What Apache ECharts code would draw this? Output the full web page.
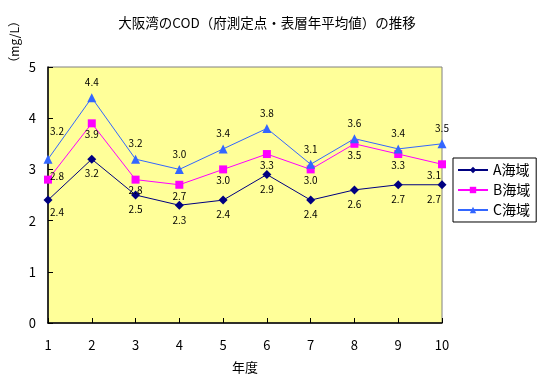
<!DOCTYPE html>
<html><head><meta charset="utf-8">
<script src="https://cdn.jsdelivr.net/npm/echarts@6/dist/echarts.min.js"></script>
<style>html,body{margin:0;padding:0;background:#fff}#c{width:545px;height:380px}</style>
</head><body><div id="c"></div>
<script>
const years = ['1','2','3','4','5','6','7','8','9','10'];
const seriesA = [2.4, 3.2, 2.5, 2.3, 2.4, 2.9, 2.4, 2.6, 2.7, 2.7];
const seriesB = [2.8, 3.9, 2.8, 2.7, 3.0, 3.3, 3.0, 3.5, 3.3, 3.1];
const seriesC = [3.2, 4.4, 3.2, 3.0, 3.4, 3.8, 3.1, 3.6, 3.4, 3.5];
const names = ['A海域', 'B海域', 'C海域'];
const yTicks = [0, 1, 2, 3, 4, 5];

const FONT = '"Noto Sans CJK JP", "DejaVu Sans", sans-serif';
const chart = echarts.init(document.getElementById('c'));

function mk(name, data, color, symbol, size, pos, dist, firstOffset, lastOffset) {
  const n = data.length;
  return {
    name, type: 'line',
    data: data.map((v, i) => i === 0 ? {value: v, label: {offset: firstOffset}}
                           : (i === n - 1 ? {value: v, label: {offset: lastOffset}} : v)),
    color, symbol, symbolSize: size,
    lineStyle: {width: 1, color},
    itemStyle: {color},
    label: {show: true, position: pos, distance: dist, color: '#000', fontSize: 10, fontFamily: FONT,
            formatter: p => p.value.toFixed(1)},
    animation: false
  };
}

chart.setOption({
  animation: false,
  title: {text: '大阪湾のCOD（府測定点・表層年平均値）の推移', left: 262, top: 11, textAlign: 'center',
          textStyle: {fontSize: 13.5, fontWeight: 'normal', color: '#000', fontFamily: FONT}},
  graphic: [{type: 'text', left: 8, top: 15, rotation: Math.PI / 2,
             style: {text: '（mg/L）', fill: '#000', font: '12px ' + FONT}}],
  legend: {orient: 'vertical', left: 453, top: 158, itemGap: 6, itemWidth: 30, itemHeight: 8,
           padding: [5, 6, 5, 4], borderColor: '#000', borderWidth: 1, backgroundColor: '#fff',
           textStyle: {fontSize: 14, color: '#000', fontFamily: FONT}, data: names},
  grid: {left: 48, right: 103, top: 67, bottom: 57, show: true, backgroundColor: '#FFFF99',
         borderColor: '#808080', borderWidth: 1},
  xAxis: {type: 'category', data: years, boundaryGap: false, name: '年度', nameLocation: 'middle', nameGap: 38,
          nameTextStyle: {fontSize: 13, color: '#000', fontFamily: FONT},
          axisLine: {lineStyle: {color: '#000', width: 1.5}},
          axisTick: {inside: true, length: 5, lineStyle: {color: '#000'}},
          axisLabel: {fontSize: 13, color: '#000', margin: 16, fontFamily: FONT},
          splitLine: {show: false}},
  yAxis: {type: 'value', min: yTicks[0], max: yTicks[yTicks.length - 1], interval: 1,
          axisLine: {show: true, lineStyle: {color: '#000', width: 1.5}},
          axisTick: {show: true, inside: true, length: 5, lineStyle: {color: '#000'}},
          axisLabel: {fontSize: 13, color: '#000', margin: 12, fontFamily: FONT},
          splitLine: {show: false}},
  series: [
    mk(names[0], seriesA, '#000080', 'diamond', 9, 'bottom', 5, [9, -2], [-8, 0]),
    mk(names[1], seriesB, '#FF00FF', 'rect', 8, 'bottom', 2, [9, -14], [-8, 0]),
    mk(names[2], seriesC, '#3366FF', 'triangle', 9, 'top', 6, [9, -12], [0, 0])
  ]
});
</script></body></html>
